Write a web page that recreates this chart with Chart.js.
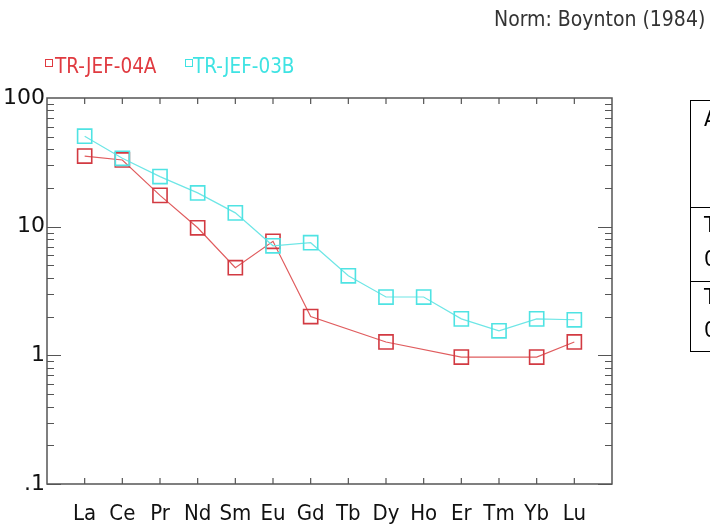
<!DOCTYPE html>
<html>
<head>
<meta charset="utf-8">
<script src="https://cdn.jsdelivr.net/npm/chart.js@4.4.0/dist/chart.umd.min.js"></script>
<style>
  body { margin: 0; width: 710px; height: 524px; overflow: hidden; background: #fff; position: relative;
         font-family: "DejaVu Sans Condensed", "DejaVu Sans", sans-serif; }
  canvas { position: absolute; left: 0; top: 0; }
  .txt { position: absolute; white-space: nowrap; line-height: 20px; }
  .title { left: 494px; top: 9px; font-size: 21px; color: #333; }
  .leg { top: 56px; font-size: 20.5px; }
  .box { position: absolute; top: 59px; width: 6px; height: 6px; box-sizing: content-box; }
  .tbl { position: absolute; left: 690px; top: 100px; width: 200px; height: 250px; border: 1.5px solid #000; }
  .hl { position: absolute; left: 690px; width: 200px; border-top: 1.5px solid #000; }
  .cell { position: absolute; left: 704px; font-size: 22px; color: #000; white-space: nowrap; line-height: 22px; }
</style>
</head>
<body>
<canvas id="reeChart" width="710" height="524"></canvas>

<div class="txt title">Norm: Boynton (1984)</div>
<div class="box" style="left:45px;border:1px solid #e03a40"></div>
<div class="txt leg" style="left:55px;color:#e03a40">TR-JEF-04A</div>
<div class="box" style="left:185px;border:1px solid #3fe3e3"></div>
<div class="txt leg" style="left:193px;color:#3fe3e3">TR-JEF-03B</div>

<div class="tbl"></div>
<div class="hl" style="top:207px"></div>
<div class="hl" style="top:281px"></div>
<div class="cell" style="top:108px">A</div>
<div class="cell" style="top:214px">T</div>
<div class="cell" style="top:248px">0</div>
<div class="cell" style="top:286px">T</div>
<div class="cell" style="top:319px">0</div>

<script>
const elements = ['La', 'Ce', 'Pr', 'Nd', 'Sm', 'Eu', 'Gd', 'Tb', 'Dy', 'Ho', 'Er', 'Tm', 'Yb', 'Lu'];
const jef04a = [35.4, 33.0, 17.5, 9.8, 4.8, 7.7, 2.0, null, 1.27, null, 0.97, null, 0.97, 1.27];
const jef03b = [50.5, 34.0, 24.5, 18.3, 12.8, 7.1, 7.5, 4.15, 2.84, 2.84, 1.92, 1.55, 1.92, 1.89];
const yTicks = [0.1, 1, 10, 100];
const yTickLabels = ['.1', '1', '10', '100'];

const red = '#d23a42';
const redLine = '#e05c5e';
const cyan = '#4fe3e3';
const cyanLine = '#6ee6e6';

function toPoints( values ) {
  return values.map( ( v, i ) => ( { x: i + 1, y: v } ) );
}

// IDL style frame with inward ticks on all four sides
const frameTicks = {
  id: 'frameTicks',
  afterDraw( chart ) {
    const { ctx, chartArea: a, scales } = chart;
    const xs = scales.x, ys = scales.y;
    ctx.save();
    ctx.strokeStyle = '#555';
    ctx.lineWidth = 1.5;
    ctx.strokeRect( a.left, a.top, a.right - a.left, a.bottom - a.top );
    ctx.lineWidth = 1.2;
    ctx.beginPath();
    elements.forEach( ( el, i ) => {
      const px = xs.getPixelForValue( i + 1 );
      ctx.moveTo( px, a.bottom ); ctx.lineTo( px, a.bottom - 6 );
      ctx.moveTo( px, a.top ); ctx.lineTo( px, a.top + 6 );
    } );
    for ( let d = 0.1; d < 100; d *= 10 ) {
      for ( let m = 1; m < 10; m++ ) {
        const v = d * m;
        const py = Math.round( ys.getPixelForValue( v ) ) + 0.5;
        const len = m === 1 ? 14 : 7;
        ctx.moveTo( a.left, py ); ctx.lineTo( a.left + len, py );
        ctx.moveTo( a.right, py ); ctx.lineTo( a.right - len, py );
      }
    }
    ctx.stroke();
    ctx.restore();
  },
};

new Chart( document.getElementById( 'reeChart' ), {
  type: 'line',
  data: {
    datasets: [
      {
        label: 'TR-JEF-04A',
        data: toPoints( jef04a ),
        borderColor: redLine,
        borderWidth: 1.2,
        pointStyle: 'rect',
        pointRadius: 10,
        pointBorderWidth: 1.6,
        pointBorderColor: red,
        pointBackgroundColor: 'rgba(0,0,0,0)',
        spanGaps: true,
        order: 1,
      },
      {
        label: 'TR-JEF-03B',
        data: toPoints( jef03b ),
        borderColor: cyanLine,
        borderWidth: 1.2,
        pointStyle: 'rect',
        pointRadius: 10,
        pointBorderWidth: 1.6,
        pointBorderColor: cyan,
        pointBackgroundColor: 'rgba(0,0,0,0)',
        spanGaps: true,
        order: 0,
      },
    ],
  },
  options: {
    responsive: false,
    animation: false,
    devicePixelRatio: 1,
    layout: { padding: { left: 0, right: 98, top: 98, bottom: 0 } },
    scales: {
      x: {
        type: 'linear',
        min: 0,
        max: 15,
        grid: { display: false, drawTicks: false },
        border: { display: false },
        afterBuildTicks: ( scale ) => {
          scale.ticks = elements.map( ( el, i ) => ( { value: i + 1 } ) );
        },
        afterFit: ( scale ) => { scale.height = 40; },
        ticks: {
          autoSkip: false,
          maxRotation: 0,
          padding: 17,
          color: '#111',
          font: { family: '"DejaVu Sans Condensed", "DejaVu Sans"', size: 22 },
          callback: ( value ) => elements[value - 1] || '',
        },
      },
      y: {
        type: 'logarithmic',
        min: 0.1,
        max: 100,
        grid: { display: false, drawTicks: false },
        border: { display: false },
        afterBuildTicks: ( scale ) => {
          scale.ticks = yTicks.map( ( v ) => ( { value: v } ) );
        },
        afterFit: ( scale ) => { scale.width = 47; },
        ticks: {
          padding: 2,
          color: '#111',
          font: { family: '"DejaVu Sans"', size: 22 },
          callback: ( value ) => yTickLabels[yTicks.indexOf( value )],
        },
      },
    },
    plugins: {
      legend: { display: false },
      tooltip: { enabled: false },
    },
  },
  plugins: [frameTicks],
} );
</script>
</body>
</html>
